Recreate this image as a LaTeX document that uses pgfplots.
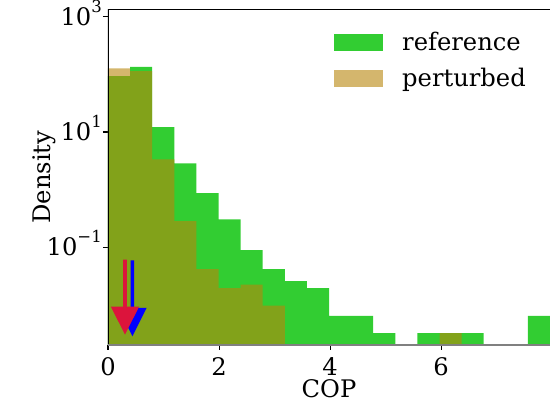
\documentclass[border=0pt]{standalone}
\usepackage{fontspec}
\setmainfont{DejaVu Serif}
\usepackage{pgfplots}
\pgfplotsset{compat=1.18}
\definecolor{refgreen}{RGB}{50,205,50}
\definecolor{pertcol}{RGB}{184,134,11}
\definecolor{redarrow}{RGB}{220,20,60}
\definecolor{bluearrow}{RGB}{0,0,255}
\newcommand\lbl{\fontsize{24.2}{28}\selectfont}
\newcommand\sups[1]{\raisebox{0.55em}{\fontsize{16.5}{18}\selectfont #1}}
\begin{document}
\begin{tikzpicture}
\begin{axis}[
  at={(0pt,0pt)}, anchor=south west,
  scale only axis, width=442pt, height=335.7pt,
  ymode=log, log origin=infty,
  xmin=0, xmax=7.96, ymin=0.002, ymax=1350,
  axis line style={draw=none},
  tick align=outside, tick pos=left,
  major tick length=5pt, minor tick length=0pt,
  tick style={black, line width=1.1pt},
  xtick={0,2,4,6}, xticklabels={0,2,4,6},
  ytick={0.1,10,1000},
  yticklabels={10\sups{−1},10\sups{1},10\sups{3}},
  tick label style={font=\lbl},
  xticklabel style={inner sep=0pt, anchor=north, yshift=-7pt},
  yticklabel style={inner sep=0pt, anchor=base east, yshift=-8.8pt, xshift=-1pt},
  xlabel={COP}, ylabel={Density},
  label style={font=\lbl, inner sep=0pt},
  xlabel style={at={(rel axis cs:0.5,-0.1549)}, anchor=base},
  ylabel style={at={(rel axis cs:-0.1312,0.5)}, anchor=base},
  legend style={font=\lbl, draw=none, fill=none,
    at={(rel axis cs:0.5113,0.9363)}, anchor=north west,
    inner sep=0pt, row sep=13pt,
    nodes={inner sep=0pt, text height=20pt, text depth=3pt},
    /tikz/every odd column/.append style={column sep=19pt}},
  legend cell align=left,
  histleg/.style={legend image code/.code={\fill[##1] (0pt,-8.5pt) rectangle (49pt,8.5pt);}},
]
\addplot[ybar interval, histleg, fill=refgreen, draw=none] coordinates {
  (0.000,93.1) (0.398,135) (0.796,12.1) (1.194,2.86) (1.592,0.869)
  (1.990,0.303) (2.388,0.0887) (2.786,0.0416) (3.184,0.0257) (3.582,0.0194)
  (3.980,0.0064) (4.378,0.0064) (4.776,0.0032) (5.174,0.000001) (5.572,0.0032)
  (5.970,0.0032) (6.368,0.0032) (6.766,0.000001) (7.164,0.000001) (7.562,0.0064)
  (7.960,0.0064)};
\addlegendentry{reference}
\addplot[ybar interval, histleg, fill=pertcol, fill opacity=0.6, draw=none] coordinates {
  (0.000,127) (0.398,114) (0.796,3.35) (1.194,0.283) (1.592,0.0414)
  (1.990,0.0194) (2.388,0.0224) (2.786,0.0097) (3.184,0.000001) (3.582,0.000001)
  (3.980,0.000001) (4.378,0.000001) (4.776,0.000001) (5.174,0.000001) (5.572,0.000001)
  (5.970,0.0032) (6.368,0.000001) (6.766,0.000001) (7.164,0.000001) (7.562,0.000001)
  (7.960,0.000001)};
\addlegendentry{perturbed}
\addplot[forget plot, fill=bluearrow, draw=none] coordinates {
  (0.408,0.0587) (0.472,0.0587) (0.472,0.00884) (0.695,0.00884)
  (0.440,0.00283) (0.185,0.00884) (0.408,0.00884)};
\addplot[forget plot, fill=redarrow, draw=none] coordinates {
  (0.274,0.061) (0.338,0.061) (0.338,0.0093) (0.561,0.0093)
  (0.306,0.00303) (0.051,0.0093) (0.274,0.0093)};
\draw[black, line width=1.1pt] (rel axis cs:0,0) -- (rel axis cs:0,1) -- (rel axis cs:1,1);
\draw[gray, line width=1.4pt] (rel axis cs:0,0) -- (rel axis cs:1,0);
\end{axis}
\pgfresetboundingbox
\useasboundingbox (-108pt,-57pt) rectangle (442pt,345pt);
\end{tikzpicture}
\end{document}
